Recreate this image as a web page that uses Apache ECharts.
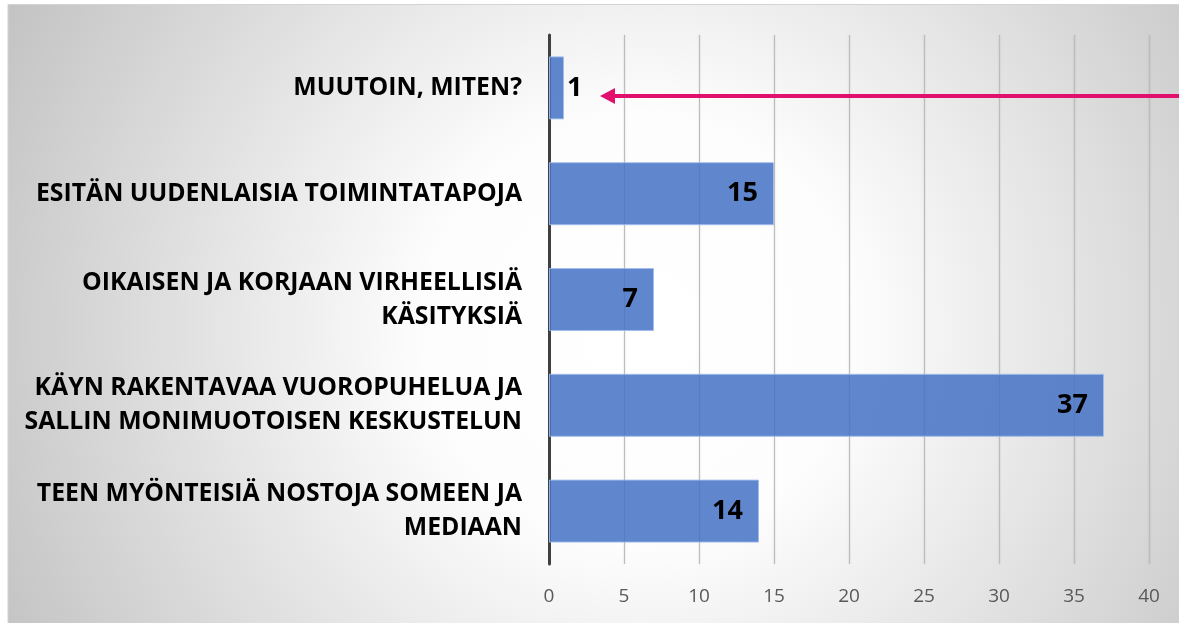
<!DOCTYPE html>
<html>
<head>
<meta charset="utf-8">
<script src="https://cdn.jsdelivr.net/npm/echarts@6/dist/echarts.min.js"></script>
<style>
  html, body { margin: 0; padding: 0; background: #fff; }
  #main { width: 1179px; height: 623px; }
</style>
</head>
<body>
<div id="main"></div>
<script>
// data, bottom to top as drawn
var categories = [
    'TEEN MYÖNTEISIÄ NOSTOJA SOMEEN JA\nMEDIAAN',
    'KÄYN RAKENTAVAA VUOROPUHELUA JA\nSALLIN MONIMUOTOISEN KESKUSTELUN',
    'OIKAISEN JA KORJAAN VIRHEELLISIÄ\nKÄSITYKSIÄ',
    'ESITÄN UUDENLAISIA TOIMINTATAPOJA',
    'MUUTOIN, MITEN?'
];
var values = [14, 37, 7, 15, 1];

var axisMin = 0;
var axisMax = 40;
var axisStep = 5;

// arrow points at the top category, tip just right of its label
var arrowCategory = 'MUUTOIN, MITEN?';
var arrowTipValue = 3.4;

var myChart = echarts.init(document.getElementById('main'));

var barData = values.map(function (v) {
    if (v < 3) {
        return { value: v, label: { position: 'right', distance: 3 } };
    }
    return v;
});

var bgStyle = {
    fill: new echarts.graphic.RadialGradient(640, 330, 720, [
        { offset: 0, color: '#ffffff' },
        { offset: 0.3, color: '#fdfdfd' },
        { offset: 1, color: '#c2c2c2' }
    ], true),
    stroke: '#d4d4d4',
    lineWidth: 1
};

var option = {
    animation: false,
    grid: {
        left: 549,
        right: 30,
        top: 35,
        bottom: 59,
        containLabel: false
    },
    graphic: [{
        type: 'rect',
        z: -100,
        silent: true,
        shape: { x: 8, y: 4.5, width: 1172, height: 619 },
        style: bgStyle
    }],
    xAxis: {
        type: 'value',
        min: axisMin,
        max: axisMax,
        interval: axisStep,
        axisLine: { show: false },
        axisTick: { show: false },
        axisLabel: {
            color: '#595959',
            fontFamily: 'Open Sans',
            fontSize: 19,
            margin: 23
        },
        splitLine: {
            lineStyle: {
                color: '#bcbcbc',
                width: 1,
                shadowColor: 'rgba(0,0,0,0.2)',
                shadowBlur: 2
            }
        }
    },
    yAxis: {
        type: 'category',
        data: categories,
        axisTick: { show: false },
        axisLine: {
            lineStyle: { color: '#404040', width: 3 }
        },
        axisLabel: {
            color: '#000',
            fontFamily: 'Open Sans',
            fontWeight: 'bold',
            fontSize: 24.8,
            lineHeight: 34,
            align: 'right',
            margin: 27
        }
    },
    series: [{
        type: 'bar',
        data: barData,
        barWidth: 63,
        itemStyle: {
            color: 'rgba(68,114,196,0.85)',
            borderColor: 'rgba(160,190,235,0.9)',
            borderWidth: 1
        },
        label: {
            show: true,
            position: 'insideRight',
            distance: 16,
            color: '#000',
            fontFamily: 'Open Sans',
            fontWeight: 'bold',
            fontSize: 27
        }
    }]
};

myChart.setOption(option);

// magenta arrow from the right edge to the top bar's label
var tip = myChart.convertToPixel({ gridIndex: 0 }, [arrowTipValue, arrowCategory]);
var ay = tip[1] + 8;
var ax = tip[0];
var arrowColor = '#e2106c';

myChart.setOption({
    graphic: [{
        type: 'rect',
        z: -100,
        silent: true,
        shape: { x: 8, y: 4.5, width: 1172, height: 619 },
        style: bgStyle
    }, {
        type: 'line',
        z: 100,
        shape: { x1: 1179, y1: ay, x2: ax + 12, y2: ay },
        style: { stroke: arrowColor, lineWidth: 4 }
    }, {
        type: 'polygon',
        z: 100,
        shape: { points: [[ax, ay], [ax + 15, ay - 8], [ax + 15, ay + 8]] },
        style: { fill: arrowColor }
    }]
});
</script>
</body>
</html>
